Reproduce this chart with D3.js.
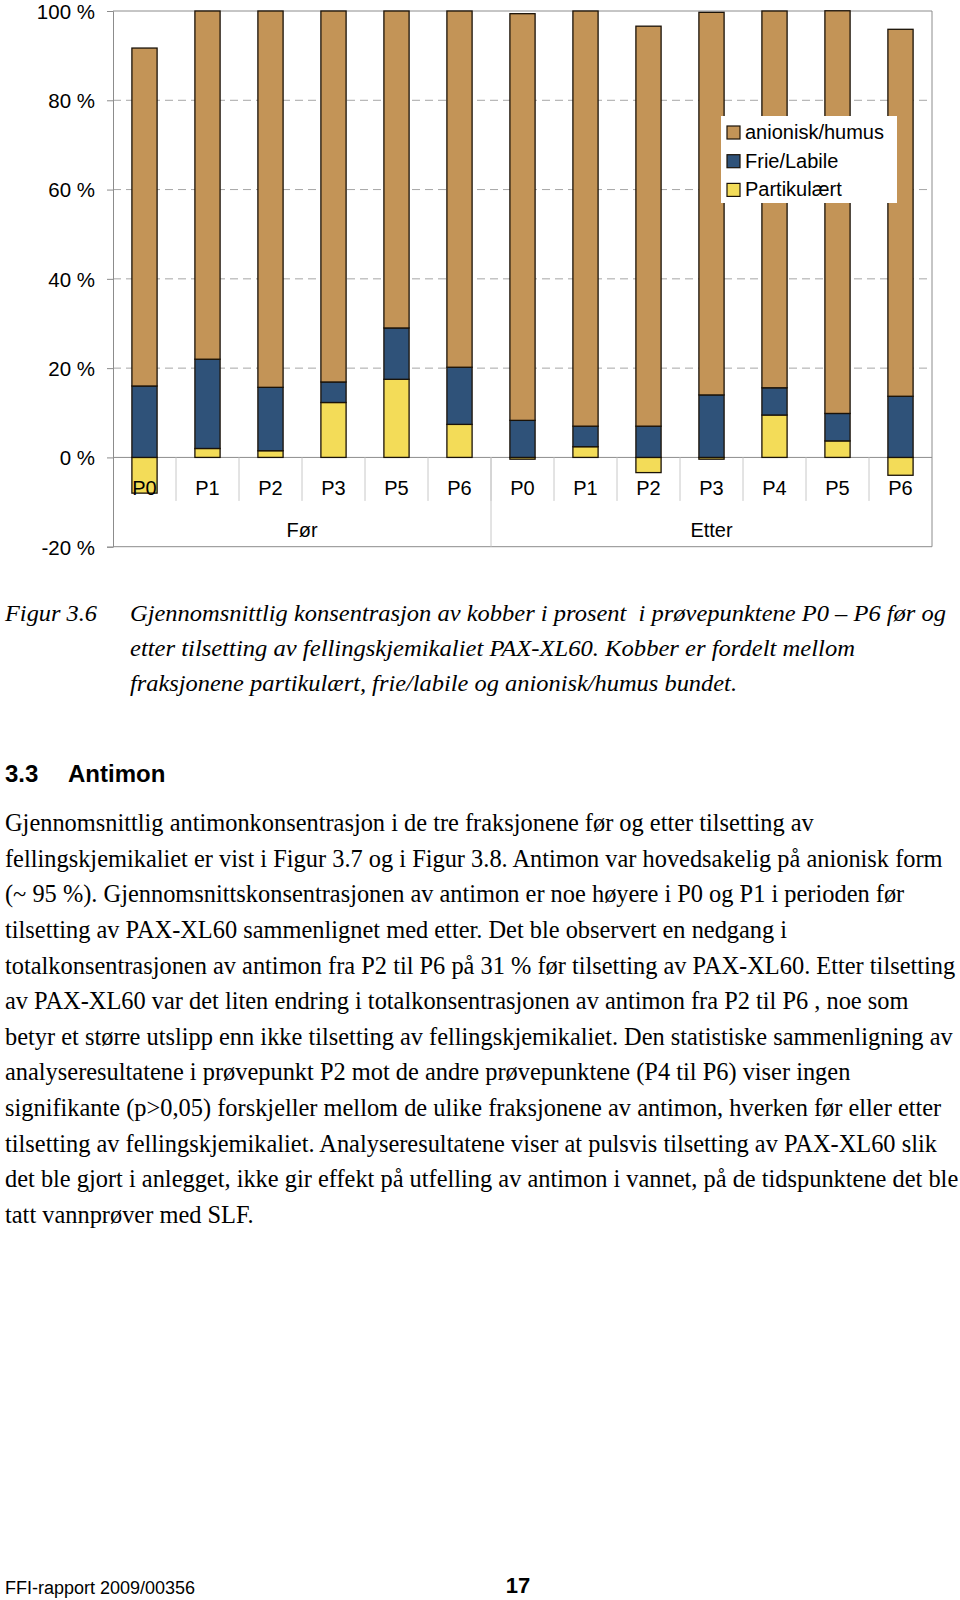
<!DOCTYPE html>
<html>
<head>
<meta charset="utf-8">
<script src="https://cdn.jsdelivr.net/npm/d3@7"></script>
<style>
  html, body { margin: 0; padding: 0; background: #fff; }
  svg { display: block; }
</style>
</head>
<body>
<svg id="page" width="960" height="1600"></svg>
<script>
// ---------- data ----------
const categories = ["P0","P1","P2","P3","P5","P6","P0","P1","P2","P3","P4","P5","P6"];
const groupLabels = ["Før","Etter"];
const groupSizes = [6, 7];
const partikulaert = [-8.0, 2.0, 1.5, 12.3, 17.5, 7.4, -0.4, 2.4, -3.4, -0.4, 9.5, 3.7, -4.0];
const frieLabile   = [16.0, 20.0, 14.2, 4.6, 11.5, 12.8, 8.3, 4.6, 7.0, 14.0, 6.1, 6.15, 13.7];
const anionisk     = [75.7, 78.0, 84.3, 83.1, 71.0, 79.8, 91.1, 93.0, 89.6, 85.7, 84.4, 90.2, 82.2];
const seriesNames = ["Partikulært","Frie/Labile","anionisk/humus"];
const yTicks = [-20, 0, 20, 40, 60, 80, 100];

const captionLabel = "Figur 3.6";
const captionLines = [
  "Gjennomsnittlig konsentrasjon av kobber i prosent  i prøvepunktene P0 – P6 før og",
  "etter tilsetting av fellingskjemikaliet PAX-XL60. Kobber er fordelt mellom",
  "fraksjonene partikulært, frie/labile og anionisk/humus bundet."
];
const headingNum = "3.3";
const headingText = "Antimon";
const bodyLines = [
  "Gjennomsnittlig antimonkonsentrasjon i de tre fraksjonene før og etter tilsetting av",
  "fellingskjemikaliet er vist i Figur 3.7 og i Figur 3.8. Antimon var hovedsakelig på anionisk form",
  "(~ 95 %). Gjennomsnittskonsentrasjonen av antimon er noe høyere i P0 og P1 i perioden før",
  "tilsetting av PAX-XL60 sammenlignet med etter. Det ble observert en nedgang i",
  "totalkonsentrasjonen av antimon fra P2 til P6 på 31 % før tilsetting av PAX-XL60. Etter tilsetting",
  "av PAX-XL60 var det liten endring i totalkonsentrasjonen av antimon fra P2 til P6 , noe som",
  "betyr et større utslipp enn ikke tilsetting av fellingskjemikaliet. Den statistiske sammenligning av",
  "analyseresultatene i prøvepunkt P2 mot de andre prøvepunktene (P4 til P6) viser ingen",
  "signifikante (p>0,05) forskjeller mellom de ulike fraksjonene av antimon, hverken før eller etter",
  "tilsetting av fellingskjemikaliet. Analyseresultatene viser at pulsvis tilsetting av PAX-XL60 slik",
  "det ble gjort i anlegget, ikke gir effekt på utfelling av antimon i vannet, på de tidspunktene det ble",
  "tatt vannprøver med SLF."
];
const footerLeft = "FFI-rapport 2009/00356";
const footerPage = "17";

// ---------- layout ----------
const svg = d3.select("#page");
const plot = { left: 113, right: 932, top: 11, bottom: 546.7 };
const colors = { "Partikulært": "#F3DC58", "Frie/Labile": "#2F5279", "anionisk/humus": "#C39457" };
const chartFont = "'Liberation Sans', Arial, sans-serif";
const serif = "'Liberation Serif', 'Times New Roman', serif";

const keys = categories.map((c, i) => i);
const x = d3.scaleBand().domain(keys).range([plot.left, plot.right]).padding(0);
const y = d3.scaleLinear().domain([-20, 100]).range([plot.bottom, plot.top]);
const barW = x.bandwidth() * 0.4;

const rows = keys.map(i => ({
  idx: i,
  "Partikulært": partikulaert[i],
  "Frie/Labile": frieLabile[i],
  "anionisk/humus": anionisk[i]
}));
const stacked = d3.stack().keys(seriesNames).offset(d3.stackOffsetDiverging)(rows);

const g = svg.append("g");

// gridlines (dashed)
g.append("g").selectAll("line")
  .data(yTicks.filter(t => t > 0 && t < 100))
  .join("line")
  .attr("x1", plot.left).attr("x2", plot.right)
  .attr("y1", d => y(d)).attr("y2", d => y(d))
  .attr("stroke", "#a6a6a6").attr("stroke-width", 1)
  .attr("stroke-dasharray", "8,5");

// top / right / bottom border
g.append("line").attr("x1", plot.left).attr("x2", plot.right).attr("y1", y(100)).attr("y2", y(100))
  .attr("stroke", "#8c8c8c");
g.append("line").attr("x1", plot.right).attr("x2", plot.right).attr("y1", plot.top).attr("y2", plot.bottom)
  .attr("stroke", "#8c8c8c");
g.append("line").attr("x1", plot.left).attr("x2", plot.right).attr("y1", plot.bottom).attr("y2", plot.bottom)
  .attr("stroke", "#8c8c8c");

// zero line
g.append("line").attr("x1", plot.left).attr("x2", plot.right).attr("y1", y(0)).attr("y2", y(0))
  .attr("stroke", "#8c8c8c");

// category separators
g.append("g").selectAll("line")
  .data(keys.slice(1))
  .join("line")
  .attr("x1", d => x(d)).attr("x2", d => x(d))
  .attr("y1", y(0)).attr("y2", y(0) + 43.5)
  .attr("stroke", "#c8c8c8");

// group separator
let cum = 0;
const groupBounds = groupSizes.map(s => { const a = cum; cum += s; return [a, cum]; });
g.append("g").selectAll("line")
  .data(groupBounds.slice(1))
  .join("line")
  .attr("x1", d => x(d[0])).attr("x2", d => x(d[0]))
  .attr("y1", y(0)).attr("y2", plot.bottom)
  .attr("stroke", "#c8c8c8");

// bars
g.append("g").selectAll("g")
  .data(stacked)
  .join("g")
  .attr("fill", d => colors[d.key])
  .selectAll("rect")
  .data(d => d.filter(v => v[1] !== v[0]))
  .join("rect")
  .attr("x", d => x(d.data.idx) + (x.bandwidth() - barW) / 2)
  .attr("width", barW)
  .attr("y", d => y(Math.max(d[0], d[1])))
  .attr("height", d => Math.abs(y(d[0]) - y(d[1])))
  .attr("stroke", "#1a1208").attr("stroke-width", 1.3);

// y axis
const yAxis = d3.axisLeft(y).tickValues(yTicks).tickFormat(d => d + " %").tickSize(6).tickPadding(12);
const ya = g.append("g").attr("transform", `translate(${plot.left},0)`).call(yAxis);
ya.select(".domain").attr("stroke", "#8c8c8c");
ya.selectAll(".tick line").attr("stroke", "#8c8c8c");
ya.selectAll(".tick text").attr("font-family", chartFont).attr("font-size", 20.5).attr("fill", "#000")
  .attr("dy", "0.36em");

// category labels
g.append("g").selectAll("text")
  .data(keys)
  .join("text")
  .attr("x", d => x(d) + x.bandwidth() / 2)
  .attr("y", 495)
  .attr("text-anchor", "middle")
  .attr("font-family", chartFont).attr("font-size", 20)
  .text(d => categories[d]);

// group labels
g.append("g").selectAll("text")
  .data(groupBounds)
  .join("text")
  .attr("x", d => (x(d[0]) + (d[1] < keys.length ? x(d[1]) : plot.right)) / 2)
  .attr("y", 536.5)
  .attr("text-anchor", "middle")
  .attr("font-family", chartFont).attr("font-size", 20)
  .text((d, i) => groupLabels[i]);

// legend
const legendItems = seriesNames.slice().reverse();
const lg = g.append("g").attr("transform", "translate(721,116)");
lg.append("rect").attr("width", 176).attr("height", 87).attr("fill", "#fff");
const li = lg.selectAll("g.item").data(legendItems).join("g")
  .attr("class", "item")
  .attr("transform", (d, i) => `translate(0,${i * 28.7})`);
li.append("rect").attr("x", 6).attr("y", 10).attr("width", 13).attr("height", 13)
  .attr("fill", d => colors[d]).attr("stroke", "#1a1208").attr("stroke-width", 1.2);
li.append("text").attr("x", 24).attr("y", 23).attr("font-family", chartFont).attr("font-size", 20)
  .text(d => d);

// ---------- caption ----------
const captionEnds = [946, 855, 737];
svg.append("text").attr("x", 5).attr("y", 621)
  .attr("font-family", serif).attr("font-style", "italic").attr("font-size", 24)
  .attr("textLength", 92).attr("lengthAdjust", "spacingAndGlyphs")
  .text(captionLabel);
svg.append("g").selectAll("text").data(captionLines).join("text")
  .attr("x", 130).attr("y", (d, i) => 621 + i * 35)
  .attr("font-family", serif).attr("font-style", "italic").attr("font-size", 24)
  .attr("textLength", (d, i) => captionEnds[i] - 130).attr("lengthAdjust", "spacingAndGlyphs")
  .style("white-space", "pre")
  .text(d => d);

// ---------- heading ----------
svg.append("text").attr("x", 5).attr("y", 782)
  .attr("font-family", chartFont).attr("font-weight", "bold").attr("font-size", 24)
  .text(headingNum);
svg.append("text").attr("x", 68).attr("y", 782)
  .attr("font-family", chartFont).attr("font-weight", "bold").attr("font-size", 24)
  .text(headingText);

// ---------- body ----------
svg.append("g").selectAll("text").data(bodyLines).join("text")
  .attr("x", 5).attr("y", (d, i) => 831 + i * 35.63)
  .attr("font-family", serif).attr("font-size", 24.4)
  .text(d => d);

// ---------- footer ----------
svg.append("text").attr("x", 5).attr("y", 1594)
  .attr("font-family", chartFont).attr("font-size", 18)
  .text(footerLeft);
svg.append("text").attr("x", 518).attr("y", 1593).attr("text-anchor", "middle")
  .attr("font-family", chartFont).attr("font-weight", "bold").attr("font-size", 22)
  .text(footerPage);
</script>
</body>
</html>
